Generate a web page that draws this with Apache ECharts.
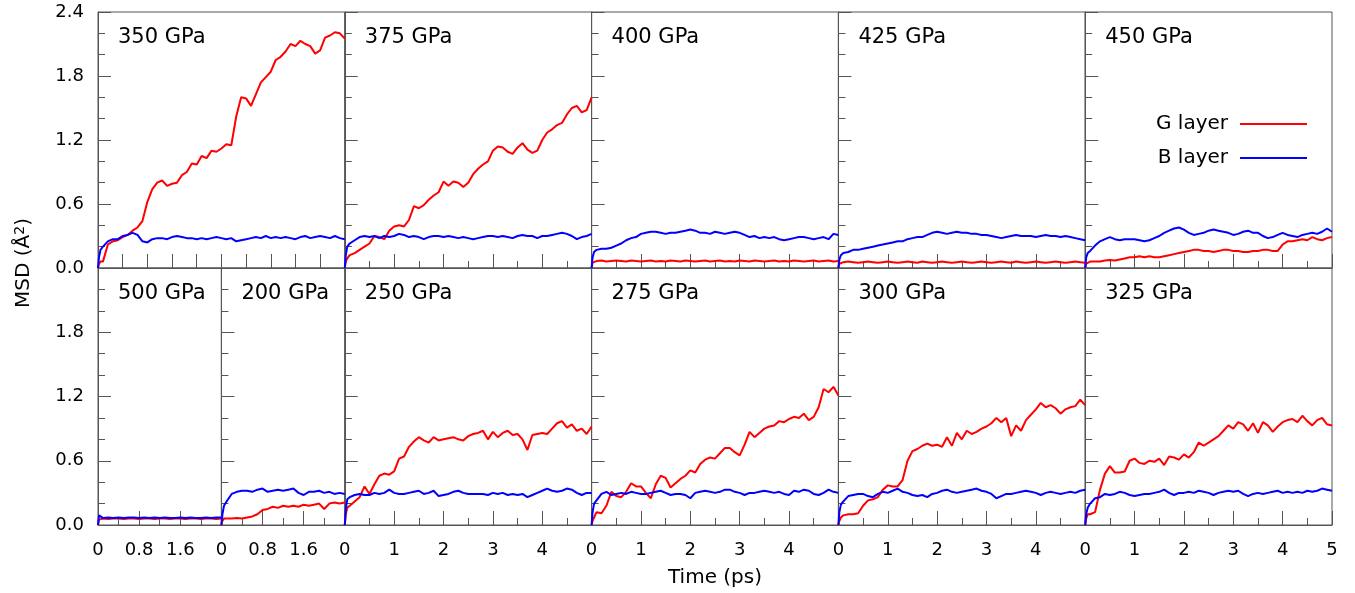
<!DOCTYPE html>
<html><head><meta charset="utf-8">
<script src="https://cdn.jsdelivr.net/npm/echarts@6/dist/echarts.min.js"></script>
<style>html,body{margin:0;padding:0;background:#fff}#c{width:1355px;height:593px}</style>
</head><body><div id="c"></div>
<script>
// ---------- DATA ----------
const timeLong = [0,0.02,0.05,
 0.1,0.2,0.3,0.4,0.5,0.6,0.7,0.8,0.9,1.0,
 1.1,1.2,1.3,1.4,1.5,1.6,1.7,1.8,1.9,2.0,
 2.1,2.2,2.3,2.4,2.5,2.6,2.7,2.8,2.9,3.0,
 3.1,3.2,3.3,3.4,3.5,3.6,3.7,3.8,3.9,4.0,
 4.1,4.2,4.3,4.4,4.5,4.6,4.7,4.8,4.9,5.0];
const timeShort = [0,0.02,0.05,
 0.1,0.2,0.3,0.4,0.5,0.6,0.7,0.8,0.9,1.0,
 1.1,1.2,1.3,1.4,1.5,1.6,1.7,1.8,1.9,2.0,
 2.1,2.2,2.3,2.4];

const g350 = [0,0.04,0.06,
 0.06,0.22,0.25,0.26,0.29,0.31,0.35,0.38,0.44,0.62,
 0.74,0.80,0.82,0.77,0.79,0.80,0.87,0.90,0.98,0.97,
 1.05,1.03,1.10,1.09,1.12,1.16,1.15,1.42,1.60,1.59,
 1.52,1.63,1.74,1.79,1.84,1.95,1.98,2.03,2.10,2.08,
 2.13,2.10,2.08,2.01,2.04,2.16,2.18,2.21,2.20,2.15];
const b350 = [0,0.10,0.17,
 0.20,0.25,0.27,0.27,0.30,0.31,0.33,0.31,0.25,0.24,
 0.27,0.28,0.28,0.27,0.29,0.30,0.29,0.28,0.28,0.27,
 0.28,0.27,0.28,0.29,0.28,0.27,0.28,0.25,0.26,0.27,
 0.28,0.29,0.28,0.30,0.28,0.29,0.28,0.29,0.28,0.27,
 0.29,0.30,0.28,0.29,0.30,0.29,0.28,0.30,0.28,0.27];

const g375 = [0,0.06,0.09,
 0.12,0.14,0.17,0.20,0.23,0.30,0.29,0.27,0.35,0.39,
 0.40,0.39,0.45,0.58,0.56,0.59,0.64,0.68,0.71,0.81,
 0.77,0.81,0.80,0.76,0.80,0.88,0.93,0.97,1.00,1.10,
 1.14,1.13,1.09,1.07,1.13,1.17,1.11,1.08,1.10,1.20,
 1.27,1.30,1.34,1.36,1.44,1.50,1.52,1.46,1.48,1.60];
const b375 = [0,0.12,0.20,
 0.23,0.26,0.29,0.30,0.29,0.30,0.28,0.30,0.29,0.30,
 0.32,0.31,0.29,0.30,0.29,0.27,0.29,0.30,0.30,0.29,
 0.30,0.29,0.28,0.29,0.28,0.27,0.28,0.29,0.30,0.30,
 0.29,0.30,0.29,0.28,0.30,0.31,0.30,0.30,0.28,0.30,
 0.30,0.31,0.32,0.33,0.32,0.30,0.27,0.29,0.30,0.32];

const g400 = [0,0.05,0.06,
 0.065,0.07,0.06,0.065,0.07,0.065,0.06,0.07,0.065,0.06,
 0.065,0.07,0.06,0.065,0.06,0.07,0.065,0.06,0.07,0.065,
 0.06,0.065,0.07,0.06,0.065,0.07,0.06,0.065,0.06,0.07,
 0.065,0.06,0.07,0.065,0.06,0.065,0.07,0.06,0.065,0.06,
 0.07,0.065,0.06,0.065,0.07,0.06,0.065,0.07,0.06,0.065];
const b400 = [0,0.10,0.15,
 0.17,0.18,0.18,0.19,0.21,0.23,0.26,0.28,0.29,0.32,
 0.33,0.34,0.34,0.33,0.32,0.33,0.33,0.34,0.35,0.36,
 0.35,0.33,0.33,0.32,0.34,0.33,0.32,0.33,0.34,0.33,
 0.31,0.29,0.30,0.28,0.29,0.28,0.29,0.27,0.26,0.27,
 0.28,0.29,0.29,0.28,0.27,0.28,0.29,0.27,0.32,0.31];

const g425 = [0,0.04,0.05,
 0.055,0.06,0.055,0.05,0.055,0.06,0.055,0.05,0.055,0.06,
 0.055,0.05,0.055,0.06,0.055,0.05,0.06,0.055,0.05,0.055,
 0.06,0.055,0.05,0.055,0.06,0.055,0.05,0.055,0.06,0.055,
 0.05,0.055,0.06,0.055,0.05,0.06,0.055,0.05,0.055,0.06,
 0.055,0.05,0.055,0.06,0.055,0.05,0.055,0.06,0.055,0.05];
const b425 = [0,0.08,0.12,
 0.14,0.15,0.17,0.17,0.18,0.19,0.20,0.21,0.22,0.23,
 0.24,0.25,0.25,0.27,0.28,0.29,0.29,0.31,0.33,0.34,
 0.33,0.32,0.33,0.34,0.33,0.33,0.32,0.32,0.31,0.31,
 0.30,0.29,0.28,0.29,0.30,0.31,0.30,0.30,0.30,0.29,
 0.30,0.31,0.30,0.30,0.29,0.30,0.29,0.28,0.27,0.26];

const g450 = [0,0.04,0.05,
 0.06,0.06,0.06,0.07,0.075,0.07,0.08,0.09,0.10,0.10,
 0.11,0.10,0.11,0.10,0.10,0.11,0.12,0.13,0.14,0.15,
 0.16,0.17,0.17,0.16,0.16,0.15,0.16,0.17,0.17,0.16,
 0.16,0.15,0.15,0.16,0.16,0.17,0.17,0.16,0.16,0.22,
 0.25,0.25,0.26,0.27,0.26,0.29,0.27,0.26,0.28,0.29];
const b450 = [0,0.10,0.14,
 0.16,0.21,0.25,0.27,0.29,0.27,0.26,0.27,0.27,0.27,
 0.26,0.25,0.26,0.28,0.30,0.33,0.35,0.37,0.38,0.36,
 0.33,0.31,0.32,0.33,0.35,0.36,0.35,0.34,0.33,0.31,
 0.32,0.34,0.35,0.33,0.33,0.30,0.28,0.29,0.31,0.33,
 0.31,0.30,0.29,0.31,0.32,0.33,0.32,0.34,0.37,0.34];

const g500 = [0,0.05,0.06,
 0.06,0.055,0.06,0.06,0.055,0.06,0.06,0.055,0.06,0.06,
 0.055,0.06,0.06,0.055,0.06,0.06,0.055,0.06,0.06,0.055,
 0.06,0.06,0.055,0.06];
const b500 = [0,0.09,0.08,
 0.065,0.07,0.065,0.07,0.065,0.07,0.07,0.065,0.07,0.065,
 0.07,0.065,0.07,0.065,0.065,0.07,0.065,0.07,0.065,0.065,
 0.07,0.065,0.07,0.07];

const g200 = [0,0.04,0.06,
 0.06,0.06,0.065,0.06,0.07,0.08,0.10,0.14,0.15,0.17,
 0.16,0.18,0.17,0.18,0.17,0.19,0.18,0.19,0.20,0.15,
 0.20,0.21,0.20,0.21];
const b200 = [0,0.10,0.18,
 0.22,0.29,0.31,0.32,0.32,0.31,0.33,0.34,0.31,0.32,
 0.33,0.32,0.33,0.34,0.30,0.28,0.31,0.31,0.32,0.30,
 0.31,0.29,0.30,0.29];

const g250 = [0,0.10,0.16,
 0.18,0.22,0.26,0.36,0.29,0.38,0.46,0.48,0.47,0.50,
 0.62,0.64,0.73,0.78,0.82,0.79,0.77,0.82,0.79,0.80,
 0.81,0.82,0.80,0.79,0.83,0.85,0.86,0.88,0.80,0.87,
 0.82,0.86,0.88,0.84,0.85,0.80,0.70,0.84,0.85,0.86,
 0.85,0.90,0.95,0.97,0.91,0.94,0.88,0.90,0.85,0.92];
const b250 = [0,0.15,0.24,
 0.26,0.28,0.29,0.28,0.28,0.30,0.29,0.30,0.33,0.30,
 0.29,0.29,0.30,0.31,0.32,0.29,0.30,0.32,0.27,0.28,
 0.29,0.31,0.32,0.30,0.29,0.29,0.29,0.29,0.28,0.30,
 0.29,0.30,0.28,0.29,0.28,0.29,0.26,0.28,0.30,0.32,
 0.34,0.32,0.31,0.32,0.34,0.33,0.30,0.28,0.30,0.30];

const g275 = [0,0.04,0.07,
 0.12,0.11,0.18,0.31,0.27,0.26,0.31,0.39,0.36,0.36,
 0.30,0.25,0.38,0.46,0.44,0.35,0.39,0.43,0.46,0.51,
 0.49,0.57,0.61,0.63,0.62,0.67,0.72,0.72,0.68,0.65,
 0.75,0.87,0.82,0.86,0.90,0.92,0.93,0.97,0.96,0.99,
 1.01,1.00,1.04,0.98,1.01,1.10,1.27,1.24,1.29,1.21];
const b275 = [0,0.12,0.20,
 0.23,0.29,0.31,0.28,0.29,0.30,0.29,0.31,0.30,0.29,
 0.29,0.30,0.31,0.32,0.30,0.28,0.29,0.29,0.28,0.25,
 0.30,0.31,0.32,0.31,0.30,0.31,0.33,0.33,0.31,0.30,
 0.28,0.30,0.30,0.31,0.32,0.31,0.30,0.31,0.29,0.28,
 0.32,0.31,0.33,0.32,0.29,0.28,0.30,0.33,0.31,0.30];

const g300 = [0,0.04,0.07,
 0.09,0.10,0.10,0.11,0.18,0.23,0.24,0.26,0.33,0.37,
 0.36,0.36,0.42,0.60,0.69,0.71,0.74,0.76,0.74,0.75,
 0.73,0.82,0.74,0.86,0.80,0.88,0.85,0.87,0.90,0.92,
 0.95,1.00,0.96,1.00,0.83,0.93,0.88,0.98,1.03,1.08,
 1.14,1.10,1.12,1.09,1.04,1.08,1.10,1.11,1.17,1.12];
const b300 = [0,0.12,0.19,
 0.22,0.27,0.28,0.29,0.29,0.27,0.26,0.29,0.31,0.30,
 0.32,0.34,0.31,0.30,0.28,0.27,0.28,0.26,0.29,0.30,
 0.32,0.33,0.31,0.30,0.31,0.32,0.33,0.34,0.32,0.31,
 0.29,0.25,0.27,0.29,0.29,0.30,0.31,0.32,0.31,0.30,
 0.28,0.30,0.31,0.30,0.29,0.30,0.31,0.30,0.32,0.33];

const g325 = [0,0.06,0.10,
 0.10,0.12,0.33,0.48,0.55,0.49,0.49,0.50,0.60,0.62,
 0.58,0.57,0.60,0.59,0.62,0.56,0.64,0.63,0.61,0.66,
 0.63,0.68,0.77,0.74,0.77,0.80,0.83,0.88,0.93,0.90,
 0.96,0.94,0.88,0.95,0.86,0.96,0.93,0.87,0.92,0.96,
 0.98,0.99,0.96,1.02,0.97,0.93,0.98,1.00,0.94,0.93];
const b325 = [0,0.10,0.16,
 0.20,0.25,0.26,0.29,0.28,0.29,0.31,0.30,0.28,0.27,
 0.28,0.29,0.29,0.30,0.31,0.33,0.30,0.28,0.30,0.30,
 0.31,0.30,0.32,0.31,0.30,0.28,0.30,0.31,0.32,0.31,
 0.32,0.29,0.27,0.29,0.30,0.29,0.30,0.31,0.32,0.30,
 0.31,0.30,0.31,0.30,0.32,0.31,0.32,0.34,0.33,0.32];

const seriesNames = ['G layer', 'B layer'];
const yTicks = [0, 0.6, 1.2, 1.8, 2.4];

// ---------- LAYOUT ----------
const FONT = 'DejaVu Sans';
const AX = '#555';
const L = 98, R = 1332, T = 12, M = 268, B = 525;
const W = (R - L) / 5;

const panels = [
 {label:'350 GPa', t:timeLong,  g:g350, b:b350, row:0, left:L,       width:W,   xmax:5,   xint:0.5, minor:false},
 {label:'375 GPa', t:timeLong,  g:g375, b:b375, row:0, left:L+W,     width:W,   xmax:5,   xint:1,   minor:true},
 {label:'400 GPa', t:timeLong,  g:g400, b:b400, row:0, left:L+2*W,   width:W,   xmax:5,   xint:1,   minor:true},
 {label:'425 GPa', t:timeLong,  g:g425, b:b425, row:0, left:L+3*W,   width:W,   xmax:5,   xint:1,   minor:true},
 {label:'450 GPa', t:timeLong,  g:g450, b:b450, row:0, left:L+4*W,   width:W,   xmax:5,   xint:1,   minor:true},
 {label:'500 GPa', t:timeShort, g:g500, b:b500, row:1, left:L,       width:W/2, xmax:2.4, xint:0.8, minor:true},
 {label:'200 GPa', t:timeShort, g:g200, b:b200, row:1, left:L+W/2,   width:W/2, xmax:2.4, xint:0.8, minor:true},
 {label:'250 GPa', t:timeLong,  g:g250, b:b250, row:1, left:L+W,     width:W,   xmax:5,   xint:1,   minor:true},
 {label:'275 GPa', t:timeLong,  g:g275, b:b275, row:1, left:L+2*W,   width:W,   xmax:5,   xint:1,   minor:true},
 {label:'300 GPa', t:timeLong,  g:g300, b:b300, row:1, left:L+3*W,   width:W,   xmax:5,   xint:1,   minor:true},
 {label:'325 GPa', t:timeLong,  g:g325, b:b325, row:1, left:L+4*W,   width:W,   xmax:5,   xint:1,   minor:true, last:true}
];

const grid = [], xAxis = [], yAxis = [], series = [], graphic = [];
panels.forEach((p, i) => {
  const top = p.row === 0 ? T : M;
  const height = p.row === 0 ? (M - T) : (B - M);
  const firstCol = Math.abs(p.left - L) < 0.5;
  grid.push({left:p.left, top:top, width:p.width, height:height, show:true,
             borderColor:AX, borderWidth:1, backgroundColor:'transparent'});
  xAxis.push({
    gridIndex:i, type:'value', min:0, max:p.xmax, interval:p.xint,
    axisLine:{show:true, onZero:false, lineStyle:{color:AX, width:1}},
    axisTick:{show:true, inside:true, length:14, lineStyle:{color:AX, width:1}},
    minorTick:{show:p.minor, splitNumber:2, length:7, lineStyle:{color:AX, width:1}},
    splitLine:{show:false},
    axisLabel:{show:p.row === 1, fontSize:18, fontFamily:FONT, color:'#000', margin:16,
               showMinLabel:true, showMaxLabel:!!p.last, hideOverlap:false,
               formatter: v => String(+v.toFixed(1))}
  });
  yAxis.push({
    gridIndex:i, type:'value', min:yTicks[0], max:yTicks[yTicks.length-1], interval:yTicks[1]-yTicks[0],
    axisLine:{show:true, onZero:false, lineStyle:{color:AX, width:1}},
    axisTick:{show:true, inside:true, length:13, lineStyle:{color:AX, width:1}},
    minorTick:{show:true, splitNumber:3, length:7, lineStyle:{color:AX, width:1}},
    splitLine:{show:false},
    axisLabel:{show:firstCol, fontSize:18, fontFamily:FONT, color:'#000', margin:14,
               showMinLabel:true, showMaxLabel:p.row === 0, hideOverlap:false,
               formatter: v => v.toFixed(1)}
  });
  series.push({
    type:'line', name:seriesNames[0], xAxisIndex:i, yAxisIndex:i,
    data:p.t.map((x, k) => [x, p.g[k]]),
    showSymbol:false, symbol:'none', clip:true, z:2,
    lineStyle:{color:'#ff0000', width:2}, itemStyle:{color:'#ff0000'}
  });
  series.push({
    type:'line', name:seriesNames[1], xAxisIndex:i, yAxisIndex:i,
    data:p.t.map((x, k) => [x, p.b[k]]),
    showSymbol:false, symbol:'none', clip:true, z:3,
    lineStyle:{color:'#0000ff', width:2}, itemStyle:{color:'#0000ff'}
  });
  graphic.push({type:'text', x:p.left + 20, y:top + 15, z:10,
    style:{text:p.label, font:'21px "' + FONT + '"', fill:'#000', align:'left', verticalAlign:'top'}});
});

graphic.push({type:'text', x:(L + R) / 2, y:578, z:10,
  style:{text:'Time (ps)', font:'20px "' + FONT + '"', fill:'#000', align:'center', verticalAlign:'middle'}});
graphic.push({type:'text', x:24, y:263, rotation:Math.PI / 2, z:10,
  style:{text:'MSD (Å{sup|2})', font:'20px "' + FONT + '"', fill:'#000', align:'center', verticalAlign:'middle',
         rich:{sup:{fontSize:14, fontFamily:FONT, verticalAlign:'top', fill:'#000', padding:[0,0,8,0]}}}});

const chart = echarts.init(document.getElementById('c'), null, {renderer:'canvas'});
chart.setOption({
  animation:false,
  backgroundColor:'#fff',
  textStyle:{fontFamily:FONT},
  legend:{
    data:seriesNames, orient:'vertical', right:48, top:114, align:'right', padding:0,
    icon:'rect', itemWidth:67, itemHeight:2, itemGap:14,
    textStyle:{fontSize:20, fontFamily:FONT, color:'#000', padding:[0, 7, 0, 0]}
  },
  grid:grid, xAxis:xAxis, yAxis:yAxis, series:series, graphic:graphic
});
</script>
</body></html>
